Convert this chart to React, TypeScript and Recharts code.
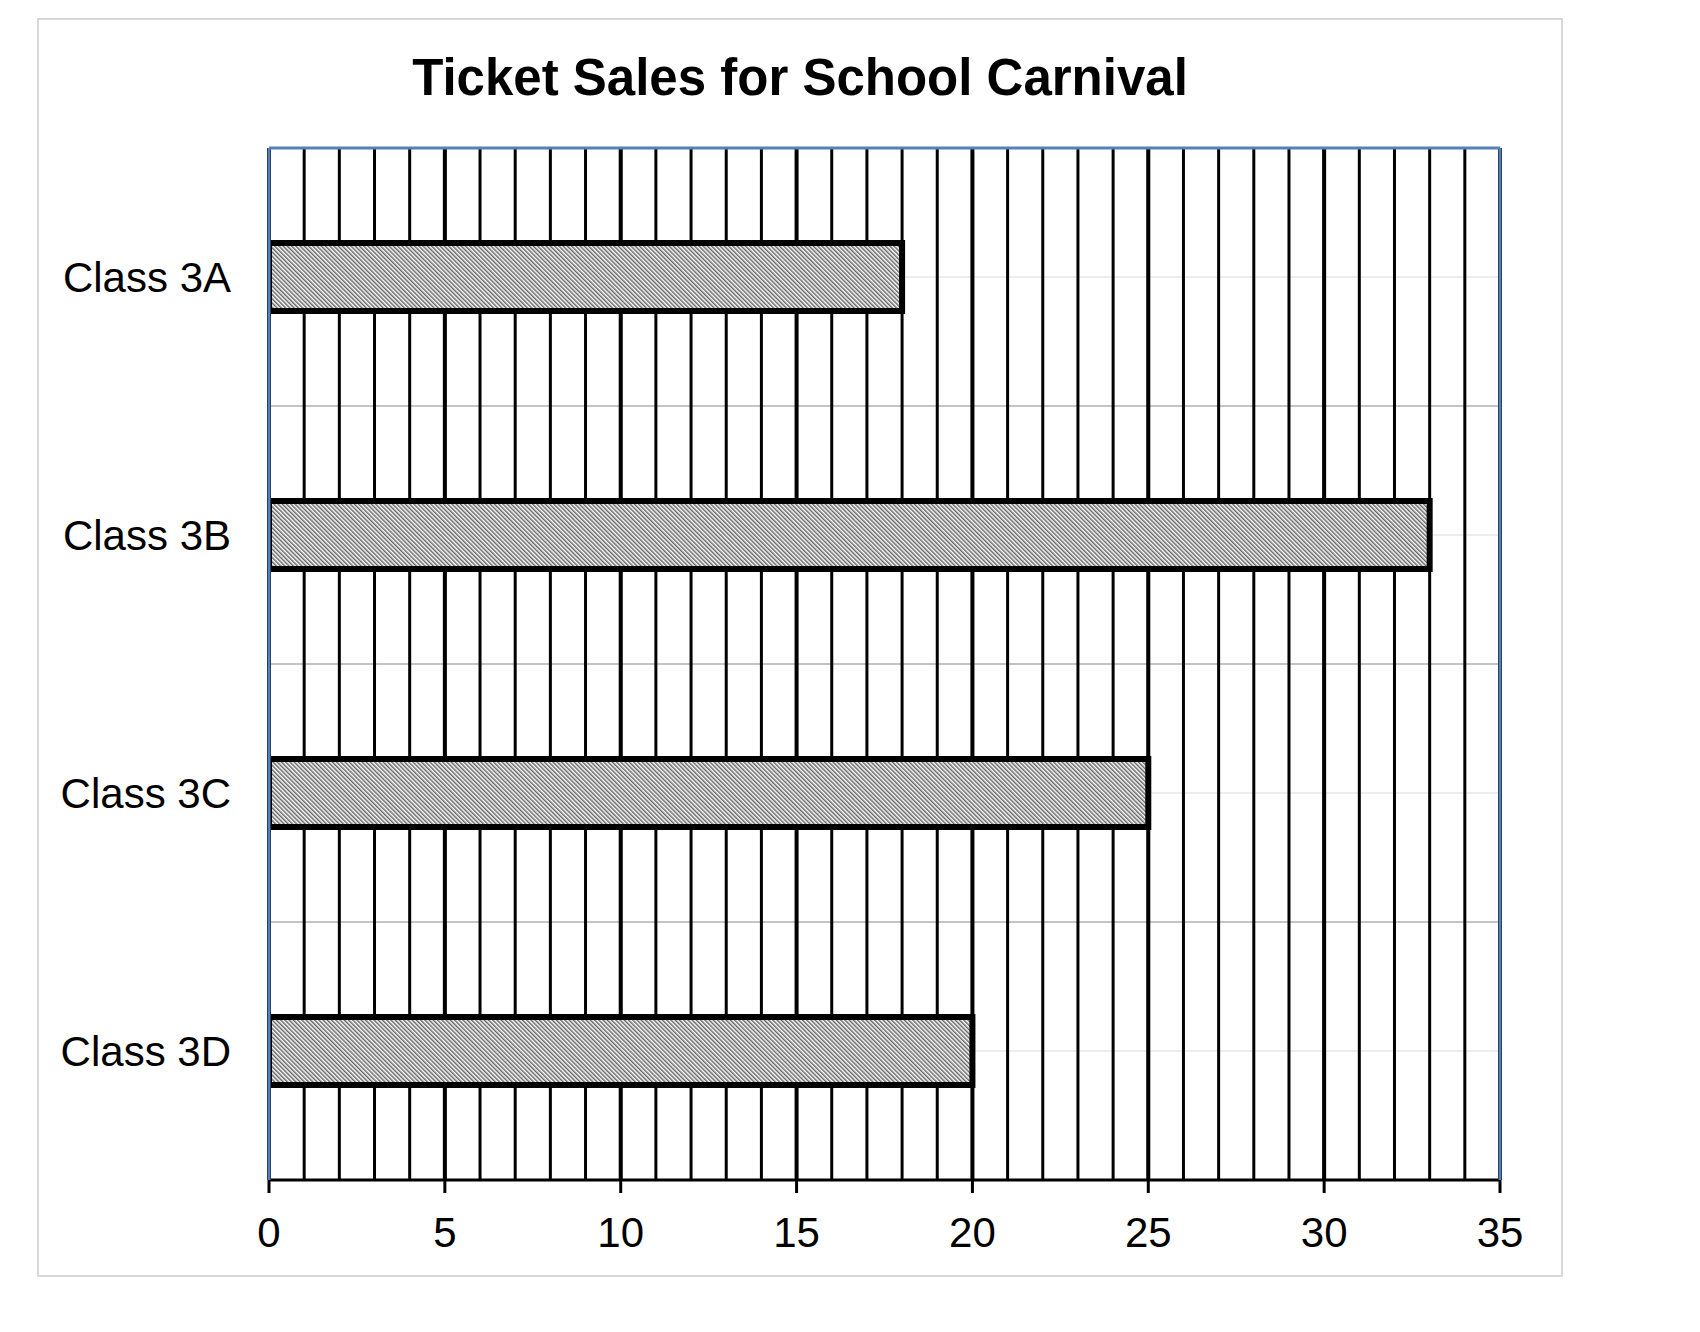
import React from "react";
import {
  BarChart,
  Bar,
  XAxis,
  YAxis,
  CartesianGrid,
} from "recharts";

const categories = ["Class 3A", "Class 3B", "Class 3C", "Class 3D"];
const ticketsSold = [18, 33, 25, 20];
const xTickLabels = [0, 5, 10, 15, 20, 25, 30, 35];
const minorGridTicks = [
  0, 1, 2, 3, 4, 5, 6, 7, 8, 9, 10, 11, 12, 13, 14, 15, 16, 17, 18, 19, 20, 21,
  22, 23, 24, 25, 26, 27, 28, 29, 30, 31, 32, 33, 34, 35,
];
const bandBoundaryIndex = [1, 2, 3];
const xDomain: [number, number] = [0, 35];
const title = "Ticket Sales for School Carnival";

const data = categories.map((c, i) => ({ name: c, value: ticketsSold[i] }));

const FONT = "'Liberation Sans', Arial, Helvetica, sans-serif";
const BLUE = "#5580bd";

const boundaryGenerator = (props: any) => {
  const off = props.offset;
  return bandBoundaryIndex.map(
    (k) => off.top + (off.height * k) / categories.length
  );
};

export default function App() {
  return (
    <div style={{ position: "relative", width: 1600, height: 1300 }}>
      <svg width={0} height={0} style={{ position: "absolute" }}>
        <defs>
          <pattern
            id="hatch"
            width={3}
            height={3}
            patternUnits="userSpaceOnUse"
            patternTransform="rotate(-45)"
          >
            <rect x={0} y={0} width={3} height={3} fill="#ffffff" />
            <rect x={0} y={0} width={1.5} height={3} fill="#666666" />
          </pattern>
        </defs>
      </svg>
      <div
        style={{
          position: "absolute",
          left: 29,
          top: 10,
          width: 1522,
          height: 1255,
          border: "2px solid #d9d9d9",
          background: "#ffffff",
        }}
      >
        <div
          style={{
            position: "absolute",
            left: 0,
            top: 32,
            width: "100%",
            textAlign: "center",
            fontFamily: FONT,
            fontWeight: "bold",
            fontSize: 51,
            lineHeight: "51px",
            color: "#000",
          }}
        >
          {title}
        </div>
        <BarChart
          width={1522}
          height={1255}
          data={data}
          layout="vertical"
          margin={{ top: 127, right: 60, left: 0, bottom: 0 }}
          barCategoryGap={0}
        >
          <XAxis
            xAxisId="main"
            type="number"
            domain={xDomain}
            ticks={xTickLabels}
            interval={0}
            allowDataOverflow
            height={95}
            axisLine={{ stroke: "#000", strokeWidth: 3 }}
            tickLine={{ stroke: "#000", strokeWidth: 3 }}
            tickSize={13}
            tickMargin={24}
            tick={{ fill: "#000", fontSize: 42, fontFamily: FONT }}
          />
          <XAxis
            xAxisId="grid"
            type="number"
            domain={xDomain}
            ticks={minorGridTicks}
            interval={0}
            allowDataOverflow
            height={0}
            hide
          />
          <XAxis
            xAxisId="top"
            type="number"
            orientation="top"
            domain={xDomain}
            allowDataOverflow
            height={1}
            tick={false}
            tickLine={false}
            axisLine={{ stroke: BLUE, strokeWidth: 3 }}
          />
          <YAxis
            yAxisId="cat"
            type="category"
            dataKey="name"
            width={230}
            axisLine={{ stroke: BLUE, strokeWidth: 3 }}
            tickLine={false}
            tickSize={0}
            tickMargin={38}
            tick={{ fill: "#000", fontSize: 42, fontFamily: FONT }}
          />
          <YAxis
            yAxisId="right"
            type="category"
            dataKey="name"
            orientation="right"
            width={1}
            tick={false}
            tickLine={false}
            axisLine={{ stroke: BLUE, strokeWidth: 3 }}
          />
          <CartesianGrid
            xAxisId="main"
            yAxisId="cat"
            vertical={false}
            horizontal
            stroke="#ededed"
            strokeWidth={2}
          />
          <CartesianGrid
            xAxisId="main"
            yAxisId="cat"
            vertical={false}
            horizontal
            horizontalCoordinatesGenerator={boundaryGenerator}
            stroke="#c4c4c4"
            strokeWidth={2}
          />
          <CartesianGrid
            xAxisId="grid"
            yAxisId="cat"
            horizontal={false}
            vertical
            stroke="#000"
            strokeWidth={3}
          />
          <CartesianGrid
            xAxisId="main"
            yAxisId="cat"
            horizontal={false}
            vertical
            stroke="#000"
            strokeWidth={4}
          />
          <Bar
            xAxisId="main"
            yAxisId="cat"
            dataKey="value"
            barSize={68}
            fill="url(#hatch)"
            stroke="#000"
            strokeWidth={6}
            isAnimationActive={false}
          />
        </BarChart>
      </div>
    </div>
  );
}
